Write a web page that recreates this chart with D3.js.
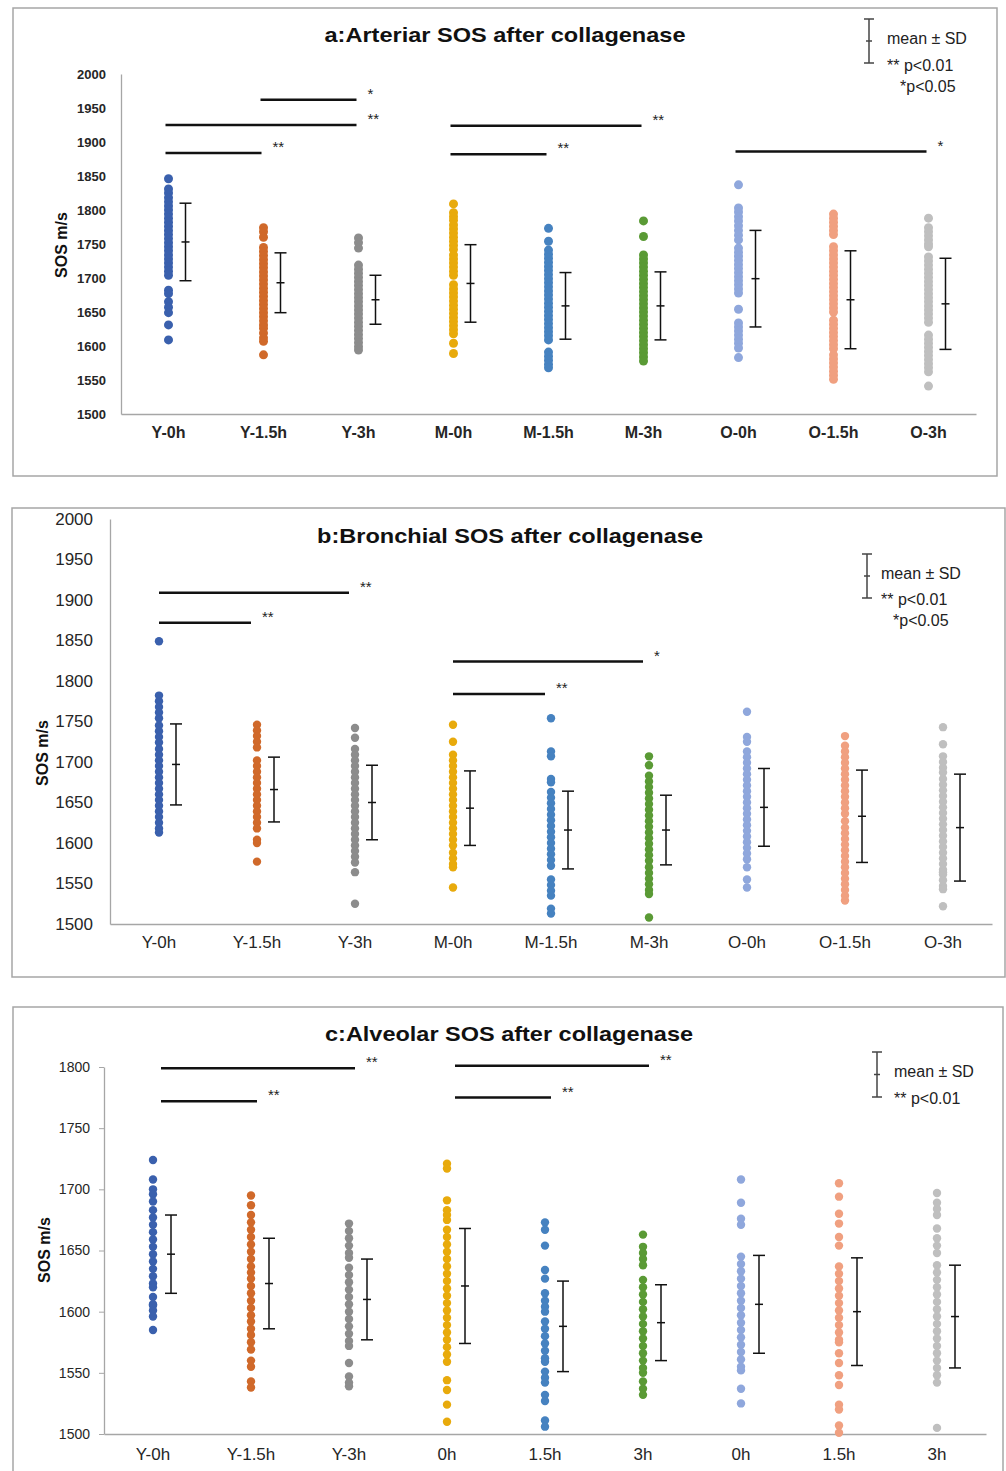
<!DOCTYPE html>
<html>
<head>
<meta charset="utf-8">
<script src="https://cdn.jsdelivr.net/npm/d3@7"></script>
<style>
  body { margin: 0; background: #fff; }
  text { font-family: "Liberation Sans", Arial, sans-serif; }
</style>
</head>
<body>
<svg width="1006" height="1471"></svg>
<script>
"use strict";

// groups: age (Y/M/O) x time after collagenase
const categories = ['Y-0h', 'Y-1.5h', 'Y-3h', 'M-0h', 'M-1.5h', 'M-3h', 'O-0h', 'O-1.5h', 'O-3h'];
const alveolarLabels = ['Y-0h', 'Y-1.5h', 'Y-3h', '0h', '1.5h', '3h', '0h', '1.5h', '3h'];
const colors = ['#3a60ad', '#d0692a', '#8c8c8c', '#e8aa0c', '#4682c0', '#5a9a35', '#8fa7dc', '#f0a080', '#bfbfbf'];

const ticks2000 = [1500, 1550, 1600, 1650, 1700, 1750, 1800, 1850, 1900, 1950, 2000];
const ticks1800 = [1500, 1550, 1600, 1650, 1700, 1750, 1800];

// a: arterial
const arterialDots = [
  [1846, 1831, 1825, 1818, 1812, 1806, 1800, 1794, 1788, 1782, 1776, 1770, 1764, 1758, 1752, 1746, 1740, 1734, 1728, 1722, 1716, 1710, 1704, 1682, 1677, 1665, 1657, 1649, 1631, 1609],
  [1774, 1768, 1760, 1745, 1739, 1733, 1727, 1721, 1715, 1709, 1703, 1697, 1691, 1685, 1679, 1673, 1667, 1661, 1655, 1649, 1643, 1637, 1631, 1626, 1619, 1612, 1607, 1587],
  [1759, 1752, 1744, 1719, 1713, 1707, 1701, 1695, 1689, 1683, 1677, 1671, 1665, 1659, 1653, 1647, 1641, 1635, 1629, 1623, 1617, 1611, 1605, 1599, 1594],
  [1809, 1796, 1790, 1785, 1778, 1772, 1766, 1760, 1754, 1748, 1742, 1734, 1728, 1722, 1716, 1710, 1704, 1690, 1684, 1678, 1672, 1666, 1660, 1654, 1648, 1642, 1636, 1630, 1624, 1618, 1604, 1589],
  [1773, 1754, 1741, 1735, 1729, 1723, 1717, 1711, 1705, 1699, 1693, 1687, 1681, 1675, 1669, 1663, 1657, 1651, 1645, 1639, 1633, 1627, 1621, 1615, 1609, 1591, 1585, 1579, 1573, 1568],
  [1784, 1761, 1734, 1728, 1722, 1716, 1710, 1704, 1698, 1692, 1686, 1680, 1674, 1668, 1662, 1656, 1650, 1644, 1638, 1632, 1626, 1620, 1614, 1608, 1602, 1596, 1590, 1584, 1578],
  [1837, 1803, 1797, 1790, 1784, 1777, 1770, 1763, 1756, 1744, 1738, 1732, 1726, 1720, 1714, 1708, 1702, 1696, 1690, 1684, 1678, 1654, 1634, 1628, 1622, 1616, 1610, 1604, 1597, 1583],
  [1794, 1788, 1782, 1776, 1770, 1764, 1746, 1740, 1734, 1728, 1722, 1716, 1710, 1704, 1698, 1692, 1686, 1680, 1674, 1668, 1662, 1656, 1650, 1638, 1632, 1626, 1620, 1614, 1608, 1602, 1596, 1587, 1581, 1575, 1569, 1563, 1557, 1551],
  [1788, 1774, 1768, 1762, 1756, 1750, 1746, 1731, 1725, 1719, 1713, 1707, 1701, 1695, 1689, 1683, 1677, 1671, 1665, 1659, 1653, 1647, 1641, 1635, 1616, 1610, 1604, 1598, 1592, 1586, 1580, 1574, 1568, 1562, 1541]
];
const arterialMean = [1753, 1693, 1668, 1692, 1659, 1659, 1699, 1668, 1662];
const arterialSD = [57, 44, 36, 57, 49, 50, 71, 72, 67];
const arterialSig = [
  { from: 1, to: 2, level: 1962, label: '*' },
  { from: 0, to: 2, level: 1925, label: '**' },
  { from: 0, to: 1, level: 1884, label: '**' },
  { from: 3, to: 5, level: 1924, label: '**' },
  { from: 3, to: 4, level: 1882, label: '**' },
  { from: 6, to: 8, level: 1886, label: '*' }
];

// b: bronchial
const bronchialDots = [
  [1849, 1782, 1775, 1768, 1761, 1754, 1745, 1738, 1731, 1724, 1716, 1709, 1702, 1695, 1688, 1681, 1674, 1667, 1660, 1653, 1646, 1639, 1632, 1625, 1618, 1613],
  [1746, 1739, 1732, 1725, 1718, 1702, 1695, 1688, 1681, 1674, 1667, 1660, 1653, 1646, 1639, 1632, 1625, 1618, 1604, 1600, 1577],
  [1742, 1730, 1716, 1709, 1702, 1695, 1688, 1681, 1674, 1667, 1660, 1653, 1646, 1639, 1632, 1625, 1618, 1611, 1604, 1597, 1590, 1583, 1576, 1564, 1525],
  [1746, 1725, 1709, 1702, 1695, 1688, 1681, 1674, 1667, 1660, 1653, 1646, 1639, 1632, 1625, 1618, 1611, 1604, 1597, 1588, 1581, 1574, 1570, 1545],
  [1754, 1713, 1707, 1679, 1675, 1663, 1656, 1649, 1642, 1635, 1628, 1621, 1614, 1607, 1600, 1593, 1586, 1579, 1572, 1555, 1548, 1541, 1535, 1519, 1513],
  [1707, 1696, 1683, 1676, 1669, 1662, 1655, 1648, 1641, 1634, 1627, 1620, 1613, 1606, 1599, 1592, 1585, 1578, 1570, 1563, 1556, 1549, 1542, 1537, 1508],
  [1762, 1731, 1725, 1713, 1706, 1699, 1692, 1685, 1678, 1671, 1664, 1657, 1650, 1643, 1636, 1629, 1622, 1615, 1608, 1601, 1594, 1587, 1580, 1570, 1555, 1545],
  [1732, 1720, 1713, 1706, 1699, 1692, 1685, 1678, 1671, 1664, 1657, 1650, 1643, 1636, 1627, 1619, 1612, 1605, 1598, 1591, 1584, 1577, 1570, 1563, 1556, 1549, 1542, 1535, 1529],
  [1743, 1722, 1707, 1700, 1693, 1687, 1679, 1672, 1665, 1658, 1651, 1644, 1637, 1630, 1623, 1616, 1609, 1602, 1595, 1588, 1581, 1574, 1567, 1564, 1561, 1554, 1547, 1543, 1522]
];
const bronchialMean = [1697, 1666, 1650, 1643, 1616, 1616, 1644, 1633, 1619];
const bronchialSD = [50, 40, 46, 46, 48, 43, 48, 57, 66];
const bronchialSig = [
  { from: 0, to: 2, level: 1909, label: '**' },
  { from: 0, to: 1, level: 1872, label: '**' },
  { from: 3, to: 5, level: 1824, label: '*' },
  { from: 3, to: 4, level: 1784, label: '**' }
];

// c: alveolar
const alveolarDots = [
  [1724, 1708, 1700, 1696, 1690, 1683, 1677, 1671, 1665, 1659, 1653, 1647, 1641, 1635, 1629, 1623, 1620, 1612, 1606, 1605, 1601, 1596, 1585],
  [1695, 1687, 1679, 1673, 1667, 1661, 1655, 1649, 1643, 1637, 1632, 1627, 1621, 1615, 1609, 1603, 1597, 1592, 1586, 1581, 1575, 1569, 1560, 1555, 1543, 1538],
  [1672, 1666, 1660, 1654, 1648, 1644, 1636, 1630, 1624, 1618, 1612, 1606, 1600, 1594, 1588, 1582, 1576, 1572, 1558, 1547, 1542, 1539],
  [1721, 1717, 1691, 1683, 1679, 1675, 1667, 1661, 1655, 1649, 1643, 1637, 1631, 1625, 1619, 1613, 1607, 1601, 1595, 1589, 1583, 1577, 1571, 1565, 1559, 1544, 1536, 1524, 1510],
  [1673, 1667, 1654, 1634, 1627, 1615, 1609, 1604, 1600, 1592, 1586, 1580, 1574, 1568, 1562, 1559, 1551, 1546, 1542, 1532, 1527, 1511, 1506],
  [1663, 1653, 1648, 1643, 1638, 1626, 1620, 1614, 1608, 1602, 1596, 1590, 1584, 1578, 1572, 1566, 1560, 1554, 1550, 1543, 1537, 1532],
  [1708, 1689, 1676, 1671, 1645, 1639, 1633, 1627, 1621, 1615, 1609, 1603, 1597, 1591, 1585, 1579, 1573, 1567, 1561, 1555, 1552, 1537, 1525],
  [1705, 1694, 1680, 1672, 1661, 1654, 1637, 1631, 1625, 1619, 1613, 1607, 1601, 1595, 1589, 1583, 1577, 1575, 1566, 1558, 1548, 1540, 1524, 1520, 1507, 1501],
  [1697, 1689, 1684, 1679, 1668, 1660, 1654, 1648, 1638, 1632, 1626, 1620, 1614, 1608, 1602, 1596, 1590, 1584, 1578, 1572, 1566, 1560, 1554, 1548, 1542, 1505]
];
const alveolarMean = [1647, 1623, 1610, 1621, 1588, 1591, 1606, 1600, 1596];
const alveolarSD = [32, 37, 33, 47, 37, 31, 40, 44, 42];
const alveolarSig = [
  { from: 0, to: 2, level: 1799, label: '**' },
  { from: 0, to: 1, level: 1772, label: '**' },
  { from: 3, to: 5, level: 1801, label: '**' },
  { from: 3, to: 4, level: 1775, label: '**' }
];

const svg = d3.select('svg');
svg.append('rect').attr('width', 1006).attr('height', 1471).attr('fill', '#fff');

function drawPanel(p) {
  const g = svg.append('g');

  g.append('rect')
    .attr('x', p.frame[0]).attr('y', p.frame[1])
    .attr('width', p.frame[2]).attr('height', p.frame[3])
    .attr('fill', 'none').attr('stroke', '#a6a6a6').attr('stroke-width', 1.5);

  const x = d3.scaleBand().domain(categories).range([p.left, p.right]);
  const y = d3.scaleLinear().domain(p.domain).range([p.bottom, p.top]);
  const cx = i => x(categories[i]) + x.bandwidth() / 2;

  const yAxis = g.append('g')
    .attr('transform', `translate(${p.left},0)`)
    .call(d3.axisLeft(y).tickValues(p.ticks).tickFormat(d3.format('d'))
      .tickSize(p.tickSize).tickSizeOuter(0).tickPadding(p.tickPadding));
  yAxis.select('.domain').attr('stroke', '#a6a6a6').attr('stroke-width', 1.3);
  yAxis.selectAll('.tick line').attr('stroke', '#a6a6a6');
  yAxis.selectAll('text')
    .attr('font-family', '"Liberation Sans", Arial, sans-serif')
    .attr('font-size', p.tickFont).attr('font-weight', p.tickWeight).attr('fill', '#262626');

  const xAxis = g.append('g')
    .attr('transform', `translate(0,${p.bottom})`)
    .call(d3.axisBottom(x).tickSize(0).tickSizeOuter(0).tickPadding(p.xPadding).tickFormat((d, i) => p.labels[i]));
  xAxis.select('.domain').attr('stroke', '#a6a6a6').attr('stroke-width', 1.3);
  xAxis.selectAll('text')
    .attr('font-family', '"Liberation Sans", Arial, sans-serif')
    .attr('font-size', p.xFont).attr('font-weight', p.tickWeight).attr('fill', '#262626');

  // title is a bit wider than plain Arial in the original
  g.append('text')
    .attr('x', p.title[0] - p.title[2] / 2).attr('y', p.title[1])
    .attr('font-size', 21).attr('font-weight', 'bold').attr('fill', '#111')
    .attr('textLength', p.title[2]).attr('lengthAdjust', 'spacingAndGlyphs')
    .text(p.titleText);

  g.append('text')
    .attr('transform', `translate(${p.yTitle[0]},${p.yTitle[1]}) rotate(-90)`)
    .attr('text-anchor', 'middle')
    .attr('font-size', 16).attr('font-weight', 'bold').attr('fill', '#111')
    .text('SOS m/s');

  // dots
  const pts = p.dots.flatMap((vals, i) => vals.map(v => ({ i, v })));
  g.append('g').selectAll('circle').data(pts).join('circle')
    .attr('cx', d => cx(d.i))
    .attr('cy', d => y(d.v))
    .attr('r', p.r)
    .attr('fill', d => colors[d.i]);

  // mean +/- SD
  const bars = g.append('g').attr('stroke', '#111').attr('stroke-width', 1.5).attr('fill', 'none');
  p.mean.forEach((m, i) => {
    const bx = cx(i) + p.barDx;
    const top = y(m + p.sd[i]);
    const bot = y(m - p.sd[i]);
    bars.append('line').attr('x1', bx).attr('x2', bx).attr('y1', top).attr('y2', bot);
    bars.append('line').attr('x1', bx - 6).attr('x2', bx + 6).attr('y1', top).attr('y2', top);
    bars.append('line').attr('x1', bx - 6).attr('x2', bx + 6).attr('y1', bot).attr('y2', bot);
    bars.append('line').attr('x1', bx - 4).attr('x2', bx + 4).attr('y1', y(m)).attr('y2', y(m));
  });

  // significance lines
  p.sig.forEach(s => {
    const x1 = cx(s.from) + p.sigDx[0];
    const x2 = cx(s.to) + p.sigDx[1];
    g.append('line')
      .attr('x1', x1).attr('x2', x2).attr('y1', y(s.level)).attr('y2', y(s.level))
      .attr('stroke', '#111').attr('stroke-width', 2.5);
    g.append('text')
      .attr('x', x2 + 11).attr('y', y(s.level) - 1)
      .attr('font-size', 15).attr('fill', '#222')
      .text(s.label);
  });

  // legend
  const lg = g.append('g');
  const lx = p.legend.x;
  lg.selectAll('line').data([
    [lx, p.legend.y0, lx, p.legend.y1],
    [lx - 5, p.legend.y0, lx + 5, p.legend.y0],
    [lx - 5, p.legend.y1, lx + 5, p.legend.y1],
    [lx - 3, (p.legend.y0 + p.legend.y1) / 2, lx + 3, (p.legend.y0 + p.legend.y1) / 2]
  ]).join('line')
    .attr('x1', d => d[0]).attr('y1', d => d[1]).attr('x2', d => d[2]).attr('y2', d => d[3])
    .attr('stroke', '#444').attr('stroke-width', 1.5);
  p.legend.items.forEach(it => {
    lg.append('text')
      .attr('x', it[0]).attr('y', it[1])
      .attr('font-family', 'Lato, "Open Sans", sans-serif')
      .attr('font-size', 16).attr('fill', '#222')
      .text(it[2]);
  });
}

drawPanel({
  frame: [13, 8, 984, 468],
  left: 121, right: 976, top: 74, bottom: 414,
  domain: [1500, 2000], ticks: ticks2000,
  tickSize: 0, tickPadding: 15, tickFont: 13, tickWeight: 'bold',
  xFont: 16, xPadding: 13, labels: categories,
  title: [505, 42, 361], titleText: 'a:Arteriar SOS after collagenase',
  yTitle: [67, 245], r: 4.5,
  dots: arterialDots, mean: arterialMean, sd: arterialSD,
  barDx: 17, sig: arterialSig, sigDx: [-3, -2],
  legend: { x: 869, y0: 19, y1: 63, items: [[887, 44, 'mean ± SD'], [887, 71, '** p<0.01'], [900, 92, '*p<0.05']] }
});

drawPanel({
  frame: [12, 508, 993, 469],
  left: 110, right: 992, top: 519, bottom: 924,
  domain: [1500, 2000], ticks: ticks2000,
  tickSize: 0, tickPadding: 17, tickFont: 17, tickWeight: 'normal',
  xFont: 17, xPadding: 12, labels: categories,
  title: [510, 543, 386], titleText: 'b:Bronchial SOS after collagenase',
  yTitle: [48, 753], r: 4.2,
  dots: bronchialDots, mean: bronchialMean, sd: bronchialSD,
  barDx: 17, sig: bronchialSig, sigDx: [0, -6],
  legend: { x: 867, y0: 554, y1: 598, items: [[881, 579, 'mean ± SD'], [881, 605, '** p<0.01'], [893, 626, '*p<0.05']] }
});

drawPanel({
  frame: [13, 1007, 990, 480],
  left: 104, right: 986, top: 1067, bottom: 1434,
  domain: [1500, 1800], ticks: ticks1800,
  tickSize: 5, tickPadding: 9, tickFont: 14, tickWeight: 'normal',
  xFont: 17, xPadding: 14, labels: alveolarLabels,
  title: [509, 1041, 368], titleText: 'c:Alveolar SOS after collagenase',
  yTitle: [50, 1250], r: 4.2,
  dots: alveolarDots, mean: alveolarMean, sd: alveolarSD,
  barDx: 18, sig: alveolarSig, sigDx: [8, 6],
  legend: { x: 877, y0: 1052, y1: 1097, items: [[894, 1077, 'mean ± SD'], [894, 1104, '** p<0.01']] }
});
</script>
</body>
</html>
